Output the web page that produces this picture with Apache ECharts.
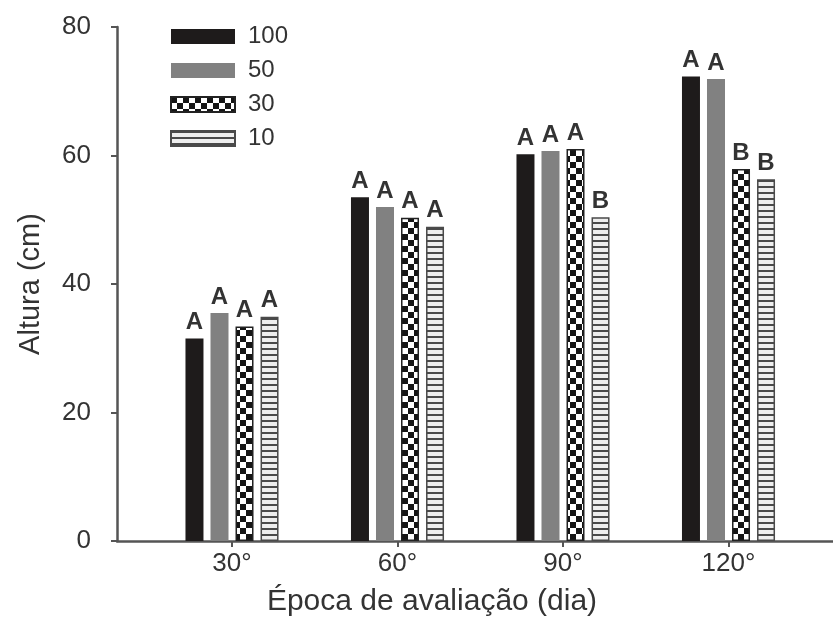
<!DOCTYPE html>
<html><head><meta charset="utf-8">
<script src="https://cdn.jsdelivr.net/npm/echarts@6/dist/echarts.min.js"></script>
<style>html,body{margin:0;padding:0;background:#fff}#c{width:833px;height:627px}</style>
</head><body><div id="c"></div>
<script>
// ---- data ----
const categories = ['30°', '60°', '90°', '120°'];
const seriesNames = ['100', '50', '30', '10'];
const s100 = [31.5, 53.5, 60.2, 72.3];
const s50  = [35.5, 52.0, 60.7, 71.9];
const s30  = [33.4, 50.3, 61.0, 57.9];
const s10  = [34.9, 48.9, 50.4, 56.3];
const l100 = ['A', 'A', 'A', 'A'];
const l50  = ['A', 'A', 'A', 'A'];
const l30  = ['A', 'A', 'A', 'B'];
const l10  = ['A', 'A', 'B', 'B'];
const yTicks = [0, 20, 40, 60, 80];

function checker() {
  const c = document.createElement('canvas'); c.width = 12; c.height = 12;
  const g = c.getContext('2d');
  g.fillStyle = '#fff'; g.fillRect(0, 0, 12, 12);
  g.fillStyle = '#151515'; g.fillRect(0, 0, 6, 6); g.fillRect(6, 6, 6, 6);
  return c;
}
function stripes() {
  const c = document.createElement('canvas'); c.width = 4; c.height = 6;
  const g = c.getContext('2d');
  g.fillStyle = '#eeeeee'; g.fillRect(0, 0, 4, 6);
  g.fillStyle = '#4a4a4a'; g.fillRect(0, 0, 4, 2);
  return c;
}
const fills = [
  { color: '#1e1b1b', border: '#1e1b1b' },
  { color: '#818181', border: '#777' },
  { color: { image: checker(), repeat: 'repeat' }, border: '#222' },
  { color: { image: stripes(), repeat: 'repeat' }, border: '#4a4a4a' }
];
const values = [s100, s50, s30, s10];
const letters = [l100, l50, l30, l10];

const chart = echarts.init(document.getElementById('c'), null, { renderer: 'canvas' });
const textColor = '#333';
const font = 'Liberation Sans, Arial, sans-serif';

chart.setOption({
  backgroundColor: '#fff',
  animation: false,
  legend: {
    orient: 'vertical', left: 165, top: 19, icon: 'rect',
    itemWidth: 64, itemHeight: 15, itemGap: 9,
    data: seriesNames,
    textStyle: { fontSize: 24, color: textColor, fontFamily: font, lineHeight: 25, padding: [0, 0, 0, 8] }
  },
  grid: { left: 117, right: 0, top: 27, bottom: 86, containLabel: false },
  xAxis: {
    type: 'value', min: 0.3051, max: 4.6314,
    name: 'Época de avaliação (dia)', nameLocation: 'middle', nameGap: 46,
    nameTextStyle: { fontSize: 30, color: textColor, fontFamily: font, padding: [0, 86, 0, 0] },
    axisLine: { show: true, onZero: false, lineStyle: { color: '#555', width: 2.5 } },
    axisTick: { show: true, customValues: [1, 2, 3, 4], length: 6, lineStyle: { color: '#555', width: 2 } },
    axisLabel: { customValues: [1, 2, 3, 4], margin: 10, fontSize: 26, color: textColor, fontFamily: font,
      formatter: v => categories[Math.round(v) - 1] },
    splitLine: { show: false }
  },
  yAxis: {
    type: 'value', min: 0, max: 80, interval: 20,
    name: 'Altura (cm)', nameLocation: 'middle', nameGap: 72, nameRotate: 90,
    nameTextStyle: { fontSize: 29, color: textColor, fontFamily: font },
    axisLine: { show: true, lineStyle: { color: '#555', width: 2.5 } },
    axisTick: { show: true, length: 6, lineStyle: { color: '#555', width: 2 } },
    axisLabel: { margin: 26, fontSize: 26, color: textColor, fontFamily: font,
      formatter: v => yTicks.includes(v) ? String(v) : '' },
    splitLine: { show: false }
  },
  series: seriesNames.map((n, i) => ({
    name: n, type: 'bar', barWidth: 18, barGap: '39%',
    data: values[i].map((v, k) => [k + 1, v]),
    itemStyle: { color: fills[i].color, borderColor: fills[i].border, borderWidth: i >= 2 ? 1.5 : 0 },
    label: { show: true, position: 'top', distance: 4, fontSize: 24, fontWeight: 'bold',
      color: '#333', fontFamily: font,
      formatter: p => letters[i][p.dataIndex] }
  }))
});
</script></body></html>
